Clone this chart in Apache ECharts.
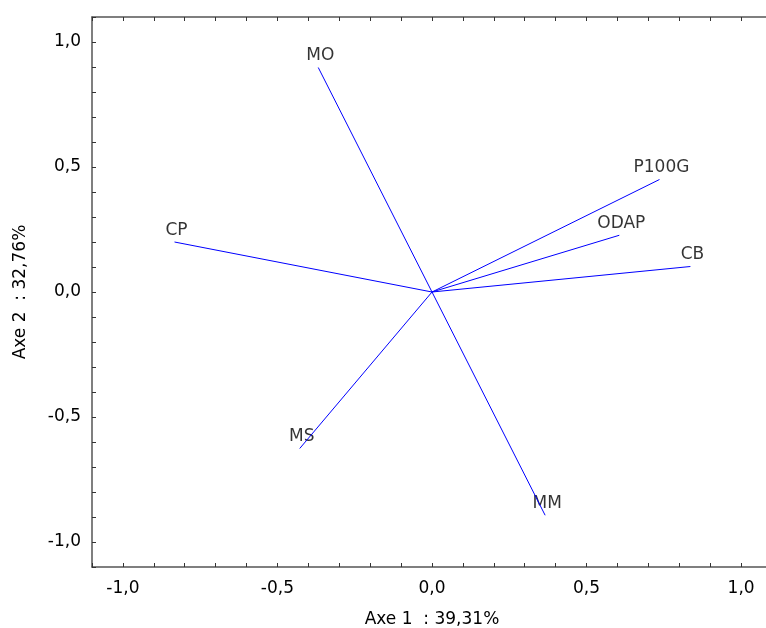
<!DOCTYPE html>
<html>
<head>
<meta charset="utf-8">
<script src="https://cdn.jsdelivr.net/npm/echarts@6/dist/echarts.min.js"></script>
<style>html,body{margin:0;padding:0;background:#fff}#c{width:766px;height:628px}</style>
</head>
<body>
<div id="c"></div>
<script>
const varNames = ['MO', 'P100G', 'ODAP', 'CB', 'CP', 'MS', 'MM'];
const axis1 = [-0.368, 0.736, 0.606, 0.836, -0.833, -0.428, 0.366];
const axis2 = [0.898, 0.450, 0.227, 0.102, 0.200, -0.626, -0.893];
const majorTicks = [-1.0, -0.5, 0.0, 0.5, 1.0];
const minorTicks = [-1.1, -1.0, -0.9, -0.8, -0.7, -0.6, -0.5, -0.4, -0.3, -0.2, -0.1, 0.0,
  0.1, 0.2, 0.3, 0.4, 0.5, 0.6, 0.7, 0.8, 0.9, 1.0, 1.1];
const xTitle = 'Axe 1  : 39,31%';
const yTitle = 'Axe 2  : 32,76%';

const fontFam = '"DejaVu Sans", "Liberation Sans", Arial, sans-serif';
const fmt = v => (Math.abs(v) < 1e-9 ? 0 : v).toFixed(1).replace('.', ',');

function makeAxis(pos, showLabels, name) {
  const a = {
    type: 'value', position: pos, min: -1.1, max: 1.1,
    axisLine: { show: true, onZero: false, lineStyle: { color: '#555', width: 1.5 } },
    axisTick: { show: true, inside: true, length: 4, customValues: minorTicks, lineStyle: { color: '#333', width: 1 } },
    axisLabel: { show: showLabels, customValues: majorTicks, formatter: fmt, color: '#000', fontSize: 17, fontFamily: fontFam, margin: 13 },
    splitLine: { show: false }
  };
  if (name) {
    a.name = name; a.nameLocation = 'middle';
    a.nameTextStyle = { color: '#000', fontSize: 17, fontFamily: fontFam };
  }
  return a;
}

const xBottom = makeAxis('bottom', true, xTitle); xBottom.nameGap = 44;
const xTop = makeAxis('top', false);
const yLeft = makeAxis('left', true, yTitle); yLeft.nameGap = 63;
yLeft.axisLabel.margin = 11;
const yRight = makeAxis('right', false);

const series = varNames.map((n, i) => ({
  type: 'line', name: n, xAxisIndex: 0, yAxisIndex: 0,
  data: [[0, 0], [axis1[i], axis2[i]]],
  showSymbol: false, symbol: 'none', silent: true, animation: false,
  lineStyle: { color: '#0000ff', width: 1 }
}));
series.push({
  type: 'scatter', xAxisIndex: 0, yAxisIndex: 0, symbolSize: 0, animation: false, silent: true,
  data: varNames.map((n, i) => ({ name: n, value: [axis1[i], axis2[i]] })),
  label: { show: true, position: 'top', distance: 3, offset: [2, 0], formatter: p => p.name, color: '#000', fontSize: 17, fontFamily: fontFam }
});

const chart = echarts.init(document.getElementById('c'), null, { renderer: 'canvas' });
chart.setOption({
  backgroundColor: '#fff',
  animation: false,
  grid: { left: 92, top: 17, right: -6, bottom: 61, containLabel: false, outerBoundsMode: 'none' },
  xAxis: [xBottom, xTop],
  yAxis: [yLeft, yRight],
  series: series
});
</script>
</body>
</html>
